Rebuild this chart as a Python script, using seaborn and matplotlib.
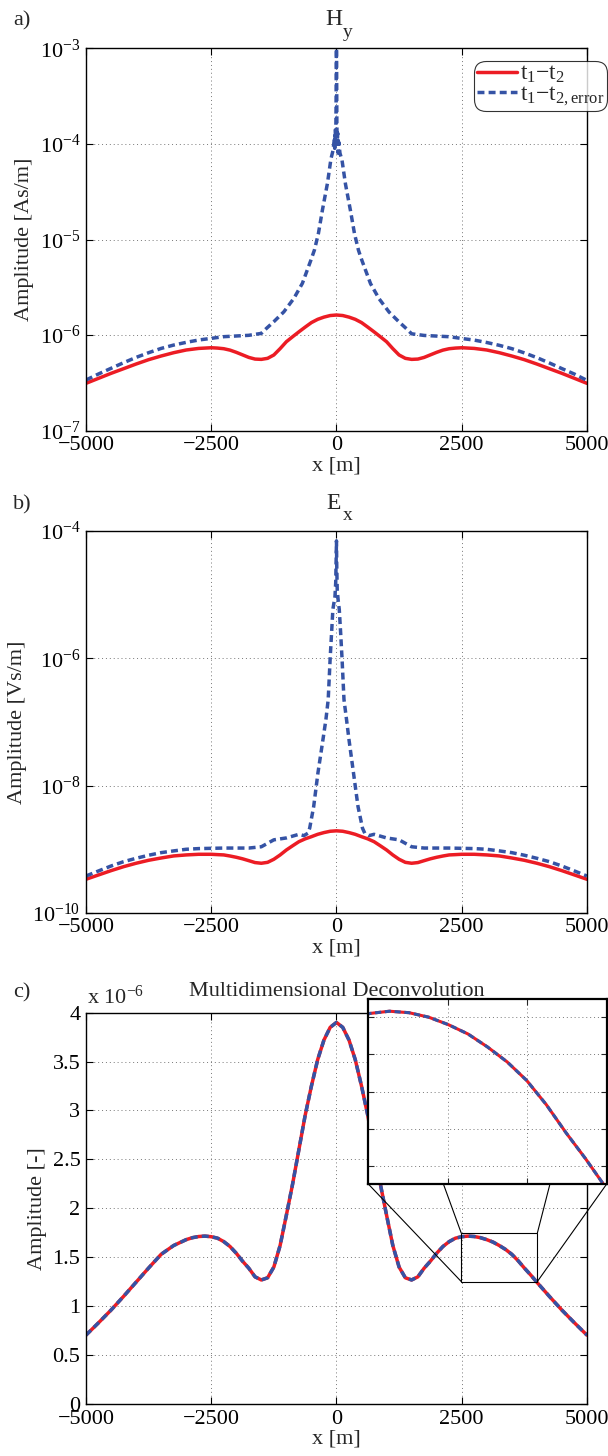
import seaborn as sns
import matplotlib.pyplot as plt
from matplotlib.patches import Rectangle, ConnectionPatch
from matplotlib.ticker import NullLocator, LogFormatterSciNotation, FixedLocator

# ---------------- data ----------------
# sampling of the smooth curves [m]: coarse at the flanks, finer in the middle
x_fine = (list(range(-5000, -2500, 250)) + list(range(-2500, 2501, 125))
          + list(range(2750, 5001, 250)))

# a) H_y, t1-t2 [As/m]
hy_t1t2 = [3.12e-7, 3.52e-7, 3.97e-7, 4.44e-7, 4.97e-7, 5.52e-7, 6.03e-7, 6.53e-7,
           6.97e-7, 7.24e-7,
           7.36e-7, 7.30e-7, 7.19e-7, 6.95e-7, 6.59e-7, 6.20e-7, 5.83e-7, 5.60e-7,
           5.56e-7, 5.70e-7, 6.18e-7, 7.20e-7, 8.51e-7, 9.60e-7, 1.08e-6, 1.21e-6,
           1.35e-6, 1.46e-6, 1.54e-6, 1.60e-6, 1.62e-6, 1.60e-6, 1.54e-6, 1.46e-6,
           1.35e-6, 1.21e-6, 1.08e-6, 9.60e-7, 8.51e-7, 7.20e-7, 6.18e-7, 5.70e-7,
           5.56e-7, 5.60e-7, 5.83e-7, 6.20e-7, 6.59e-7, 6.95e-7, 7.19e-7, 7.30e-7, 7.36e-7,
           7.24e-7, 6.97e-7, 6.53e-7, 6.03e-7, 5.52e-7, 4.97e-7, 4.44e-7, 3.97e-7,
           3.52e-7, 3.12e-7]

# a) H_y, t1-t2,error
hy_err_x = [-5000, -4750, -4500, -4250, -4000, -3750, -3500, -3250, -3000, -2750, -2500,
            -2250, -2000, -1750, -1500, -1400, -1250, -1050, -850, -680, -510, -440, -360,
            -280, -180, -110, -70, -45, -35, -25, -15, -8, -4, 0, 4, 8, 15, 25, 35, 45, 70,
            110, 180, 280, 360, 440, 510, 680, 850, 1050, 1250, 1400, 1500, 1750, 2000,
            2250, 2500, 2750, 3000, 3250, 3500, 3750, 4000, 4250, 4500, 4750, 5000]
hy_t1t2_err = [3.38e-7, 3.91e-7, 4.48e-7, 5.13e-7, 5.83e-7, 6.53e-7, 7.24e-7, 7.85e-7,
               8.38e-7, 8.87e-7, 9.23e-7, 9.61e-7, 9.77e-7, 9.93e-7, 1.04e-6, 1.17e-6,
               1.38e-6, 1.75e-6, 2.42e-6, 3.48e-6, 6.09e-6, 7.76e-6, 1.16e-5, 2.04e-5,
               3.88e-5, 7.0e-5, 8.5e-5, 1.1e-4, 9.0e-5, 1.4e-4, 1.0e-4, 2.5e-4, 6.0e-4,
               1.5e-3, 5.0e-4, 1.6e-4, 1.0e-4, 1.3e-4, 8.0e-5, 1.05e-4, 8.0e-5, 6.8e-5,
               3.8e-5, 2.0e-5, 1.15e-5, 7.7e-6, 6.0e-6, 3.45e-6, 2.4e-6, 1.74e-6, 1.37e-6,
               1.16e-6, 1.03e-6, 9.9e-7, 9.75e-7, 9.6e-7, 9.2e-7, 8.85e-7, 8.35e-7, 7.8e-7,
               7.2e-7, 6.5e-7, 5.8e-7, 5.1e-7, 4.45e-7, 3.9e-7, 3.35e-7]

# b) E_x, t1-t2 [Vs/m]
ex_t1t2 = [3.36e-10, 3.93e-10, 4.59e-10, 5.30e-10, 6.00e-10, 6.68e-10, 7.26e-10, 7.82e-10,
           8.11e-10, 8.30e-10,
           8.30e-10, 8.20e-10, 8.11e-10, 7.80e-10, 7.45e-10, 7.05e-10, 6.59e-10, 6.15e-10,
           6.00e-10, 6.20e-10, 6.93e-10, 8.10e-10, 9.70e-10, 1.13e-9, 1.31e-9, 1.45e-9,
           1.57e-9, 1.71e-9, 1.82e-9, 1.91e-9, 1.94e-9, 1.91e-9, 1.82e-9, 1.71e-9,
           1.57e-9, 1.45e-9, 1.31e-9, 1.13e-9, 9.70e-10, 8.10e-10, 6.93e-10, 6.20e-10,
           6.00e-10, 6.15e-10, 6.59e-10, 7.05e-10, 7.45e-10, 7.80e-10, 8.11e-10, 8.20e-10,
           8.30e-10,
           8.30e-10, 8.11e-10, 7.82e-10, 7.26e-10, 6.68e-10, 6.00e-10, 5.30e-10, 4.59e-10,
           3.93e-10, 3.36e-10]

# b) E_x, t1-t2,error
ex_err_x = [-5000, -4750, -4500, -4250, -4000, -3750, -3500, -3250, -3000, -2750, -2500,
            -2250, -2000, -1750, -1500, -1250, -1000, -750, -650, -570, -535, -455, -370,
            -270, -210, -165, -125, -97, -72, -30, -15, -5, 0, 5, 15, 35, 56, 83, 110, 150,
            200, 250, 340, 430, 520, 565, 650, 750, 1000, 1250, 1500, 1750, 2000, 2250,
            2500, 2750, 3000, 3250, 3500, 3750, 4000, 4250, 4500, 4750, 5000]
ex_t1t2_err = [3.78e-10, 4.54e-10, 5.43e-10, 6.35e-10, 7.18e-10, 8.02e-10, 8.81e-10,
               9.38e-10, 9.95e-10, 1.02e-9, 1.03e-9, 1.04e-9, 1.04e-9, 1.04e-9, 1.09e-9,
               1.40e-9, 1.50e-9, 1.71e-9, 1.63e-9, 1.78e-9, 2.13e-9, 4.67e-9, 1.57e-8,
               5.25e-8, 1.1e-7, 2.24e-7, 1.03e-6, 2.54e-6, 5.85e-6, 9.3e-6, 1.55e-5, 4.0e-5,
               7.0e-5, 3.0e-5, 1.2e-5, 8.0e-6, 5.85e-6, 2.54e-6, 1.03e-6, 2.24e-7, 1.1e-7,
               5.25e-8, 1.57e-8, 4.67e-9, 2.13e-9, 1.78e-9, 1.63e-9, 1.71e-9, 1.50e-9,
               1.40e-9, 1.09e-9, 1.04e-9, 1.04e-9, 1.04e-9, 1.03e-9, 1.02e-9, 9.95e-10,
               9.38e-10, 8.81e-10, 8.02e-10, 7.18e-10, 6.35e-10, 5.43e-10, 4.54e-10, 3.78e-10]

# c) multidimensional deconvolution [x 1e-6]
mdd_x = (list(range(-5000, -3000, 250)) + list(range(-3000, 4001, 125))
         + list(range(4250, 5001, 250)))
mdd_t1t2 = [0.704, 0.83, 0.96, 1.10, 1.245, 1.39, 1.53, 1.62,
            1.68, 1.70, 1.712, 1.716, 1.71, 1.695, 1.66, 1.61, 1.541, 1.46, 1.388, 1.30,
            1.268, 1.29, 1.40, 1.62, 1.93, 2.25, 2.60, 2.95, 3.25, 3.52, 3.72, 3.85,
            3.90, 3.85, 3.72, 3.52, 3.25, 2.95, 2.60, 2.25, 1.93, 1.62, 1.40, 1.29,
            1.268, 1.30, 1.388, 1.46, 1.541, 1.61, 1.66, 1.695, 1.71, 1.716, 1.712, 1.70,
            1.68, 1.655, 1.62, 1.58, 1.53, 1.465, 1.39, 1.32, 1.245,
            1.10, 0.96, 0.83, 0.704]
mdd_t1t2_err = list(mdd_t1t2)  # the two curves coincide in c)

x_ticks = [-5000, -2500, 0, 2500, 5000]
legend_labels = [r'$\mathrm{t_1{-}t_2}$', r'$\mathrm{t_1{-}t_{2,error}}$']

RED = '#EC1C24'
BLUE = '#3553A5'
FS = 16

# ---------------- style ----------------
sns.set_theme(style='ticks')
plt.rcParams['font.family'] = ['Liberation Serif', 'DejaVu Serif']
plt.rcParams['mathtext.fontset'] = 'custom'
plt.rcParams['mathtext.rm'] = 'Liberation Serif'
plt.rcParams['mathtext.it'] = 'Liberation Serif:italic'
plt.rcParams['mathtext.default'] = 'regular'
plt.rcParams['axes.unicode_minus'] = True

fig = plt.figure(figsize=(6.08, 14.56), dpi=100)
ax_a = fig.add_axes([0.1414, 0.7043, 0.824, 0.2624])
ax_b = fig.add_axes([0.1414, 0.3731, 0.824, 0.2622])
ax_c = fig.add_axes([0.1414, 0.0357, 0.824, 0.2688])


def draw_pair(ax, xr, yr, xb, yb, lw=2.5):
    sns.lineplot(x=xr, y=yr, ax=ax, color=RED, linewidth=lw, errorbar=None, legend=False)
    sns.lineplot(x=xb, y=yb, ax=ax, color=BLUE, linewidth=lw, errorbar=None, legend=False)
    ax.lines[-1].set_dashes((2.0, 1.2))


def style_axes(ax, ylabel):
    ax.set_xlim(-5000, 5000)
    ax.set_xticks(x_ticks)
    ax.grid(True, linestyle=(0, (1, 3)), color='#777777', linewidth=0.7)
    ax.tick_params(direction='in', top=True, right=True, length=5, width=0.8,
                   labelsize=FS, pad=4, colors='black')
    for s in ax.spines.values():
        s.set_linewidth(1.0)
        s.set_color('black')
    ax.set_xlabel('x [m]', fontsize=FS, labelpad=1)
    ax.set_ylabel(ylabel, fontsize=FS, labelpad=4)


def sub_title(ax, main, sub, main_up, sub_up):
    # MATLAB-like title with a large, low subscript
    ax.annotate(main, xy=(0.5, 1), xycoords='axes fraction', xytext=(-2, main_up),
                textcoords='offset points', ha='center', va='baseline', fontsize=17)
    ax.annotate(sub, xy=(0.5, 1), xycoords='axes fraction', xytext=(4.5, sub_up),
                textcoords='offset points', ha='left', va='baseline', fontsize=14)


# a) H_y
draw_pair(ax_a, x_fine, hy_t1t2, hy_err_x, hy_t1t2_err)
ax_a.set_yscale('log')
ax_a.set_ylim(1e-7, 1e-3)
ax_a.set_yticks([1e-7, 1e-6, 1e-5, 1e-4, 1e-3])
ax_a.yaxis.set_major_formatter(LogFormatterSciNotation())
ax_a.yaxis.set_minor_locator(NullLocator())
style_axes(ax_a, 'Amplitude [As/m]')
sub_title(ax_a, 'H', 'y', 17, 8)

leg = ax_a.legend(ax_a.lines[:2], legend_labels, loc='upper right',
                  bbox_to_anchor=(607 / 608, 1 - 61 / 1456), bbox_transform=fig.transFigure,
                  fontsize=17, frameon=True, fancybox=True, borderaxespad=0,
                  handlelength=1.7, handletextpad=0.15, borderpad=0.1,
                  labelspacing=-0.05)
leg.get_frame().set_edgecolor('black')
leg.get_frame().set_linewidth(0.8)
leg.get_frame().set_boxstyle('round,pad=0,rounding_size=0.5')

# b) E_x
draw_pair(ax_b, x_fine, ex_t1t2, ex_err_x, ex_t1t2_err)
ax_b.set_yscale('log')
ax_b.set_ylim(1e-10, 1e-4)
ax_b.set_yticks([1e-10, 1e-8, 1e-6, 1e-4])
ax_b.yaxis.set_major_formatter(LogFormatterSciNotation())
ax_b.yaxis.set_minor_locator(NullLocator())
style_axes(ax_b, 'Amplitude [Vs/m]')
sub_title(ax_b, 'E', 'x', 15.5, 8)

# c) MDD
draw_pair(ax_c, mdd_x, mdd_t1t2, mdd_x, mdd_t1t2_err)
ax_c.set_ylim(0, 4)
ax_c.set_yticks([0, 0.5, 1, 1.5, 2, 2.5, 3, 3.5, 4])
ax_c.set_yticklabels(['0', '0.5', '1', '1.5', '2', '2.5', '3', '3.5', '4'])
style_axes(ax_c, 'Amplitude [-]')
ax_c.set_title('Multidimensional Deconvolution', fontsize=FS, pad=12)
ax_c.text(0.002, 1.01, r'x $\mathdefault{10^{-6}}$', transform=ax_c.transAxes,
          fontsize=FS, ha='left', va='bottom')

# zoom inset
in_x0, in_x1, in_y0, in_y1 = 2490, 4010, 1.252, 1.748
ax_in = fig.add_axes([368.3 / 608, 1 - 1184 / 1456, 238.4 / 608, 184.7 / 1456])
ax_in.set_facecolor('white')
draw_pair(ax_in, mdd_x, mdd_t1t2, mdd_x, mdd_t1t2_err, lw=2.2)
ax_in.set_xlim(in_x0, in_x1)
ax_in.set_ylim(in_y0, in_y1)
ax_in.xaxis.set_major_locator(FixedLocator([3000, 3500]))
ax_in.yaxis.set_major_locator(FixedLocator([1.3, 1.4, 1.5, 1.6, 1.7]))
ax_in.set_xticklabels([])
ax_in.set_yticklabels([])
ax_in.set_xlabel('')
ax_in.set_ylabel('')
ax_in.grid(True, linestyle=(0, (1, 3)), color='#777777', linewidth=0.7)
ax_in.tick_params(direction='in', top=True, right=True, length=4, width=0.8)
for s in ax_in.spines.values():
    s.set_linewidth(1.6)
    s.set_color('black')

ax_c.add_patch(Rectangle((in_x0, in_y0), in_x1 - in_x0, in_y1 - in_y0, fill=False,
                         edgecolor='black', linewidth=0.8, zorder=5))
for fa, pb in [(0.0, (in_x0, in_y0)), (0.315, (in_x0, in_y1)),
               (0.762, (in_x1, in_y1)), (1.0, (in_x1, in_y0))]:
    con = ConnectionPatch(xyA=(fa, 0), coordsA=ax_in.transAxes, xyB=pb,
                          coordsB=ax_c.transData, color='black', linewidth=0.8)
    fig.add_artist(con)

# panel letters
fig.text(13 / 608, 1 - 25 / 1456, 'a)', fontsize=FS, va='baseline')
fig.text(13 / 608, 1 - 509 / 1456, 'b)', fontsize=FS, va='baseline')
fig.text(13 / 608, 1 - 997 / 1456, 'c)', fontsize=FS, va='baseline')

fig.savefig('out.png', dpi=100, facecolor='white')
